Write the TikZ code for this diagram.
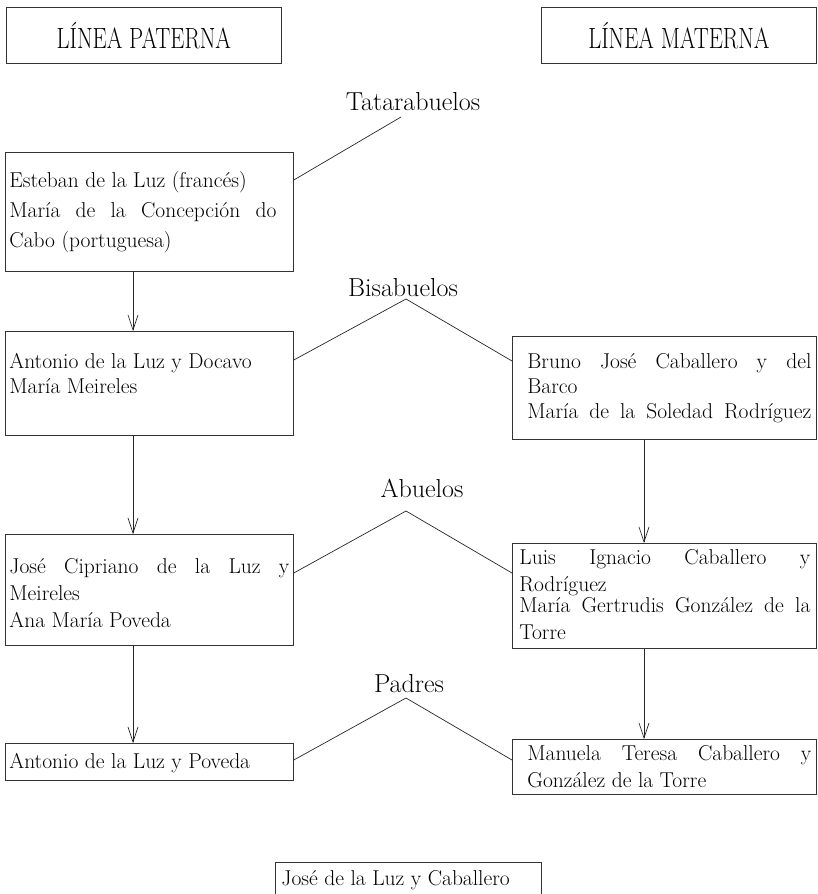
\documentclass[tikz,border=0pt]{standalone}
\usepackage{graphicx}
\usetikzlibrary{arrows.meta}
% #1 left pad, #2 text width, #3 right pad, #4 box height, #5 top gap, #6 baselineskip, #7 text
\newcommand\bx[7]{\hspace*{#1}\parbox[t][#4][t]{#2}{\fontsize{21.5}{#6}\selectfont\raggedright\vspace*{#5}\strut #7}\hspace*{#3}}
\newcommand\fl[1]{\makebox[\linewidth][s]{#1}}
\begin{document}
\begin{tikzpicture}[x=1pt,y=-1pt,
  box/.style={draw=black!80, line width=0.8pt, anchor=north west, inner sep=0pt},
  hbox/.style={draw=black!80, line width=0.8pt, anchor=north west, inner sep=0pt, font=\fontsize{22.5}{26}\selectfont},
  conn/.style={draw=black!85, line width=0.7pt},
  arr/.style={conn, -{Straight Barb[length=15pt,width=10pt,line width=0.7pt]}},
  lbl/.style={inner sep=0pt, anchor=base, font=\fontsize{26}{30}\selectfont},
]
\useasboundingbox (0,0) rectangle (817,894);
% headers
\node[hbox, minimum width=275pt, minimum height=56pt] (pat) at (6,7) {\scalebox{1}[1.3]{LÍNEA PATERNA}};
\node[hbox, minimum width=275pt, minimum height=56pt] (mat) at (541,7) {\scalebox{1}[1.3]{LÍNEA MATERNA}};
% generation labels
\node[lbl] (tata) at (413,110) {Tatarabuelos};
\node[lbl] (bisa) at (403,296) {Bisabuelos};
\node[lbl] (abue) at (422,497) {Abuelos};
\node[lbl] (padr) at (409,692) {Padres};
% boxes
\node[box] (est) at (5,152) {\bx{4pt}{267pt}{17pt}{119pt}{14pt}{30}{Esteban de la Luz (francés)\\ \fl{María de la Concepción do}\\ Cabo (portuguesa)}};
\node[box] (ant) at (5,331) {\bx{4pt}{276pt}{8pt}{104pt}{19.5pt}{25}{Antonio de la Luz y Docavo\\ María Meireles}};
\node[box] (bru) at (512,336) {\bx{15pt}{284pt}{5pt}{103pt}{14.5pt}{25}{\fl{Bruno José Caballero y del}\\ Barco\\ \fl{María de la Soledad Rodríguez}}};
\node[box] (jos) at (5,534) {\bx{4pt}{280pt}{4pt}{111pt}{20pt}{27}{\fl{José Cipriano de la Luz y}\\ Meireles\\ Ana María Poveda}};
\node[box] (lui) at (512,543) {\bx{7pt}{291pt}{6pt}{105pt}{2.4pt}{27}{\fl{Luis Ignacio Caballero y}\\ Rodríguez\\[-6pt] \fl{María Gertrudis González de la}\\ Torre}};
\node[box] (anp) at (5,743) {\bx{4pt}{276pt}{8pt}{37pt}{6pt}{27}{Antonio de la Luz y Poveda}};
\node[box] (man) at (512,739) {\bx{15pt}{284pt}{5pt}{55pt}{2pt}{27}{\fl{Manuela Teresa Caballero y}\\ González de la Torre}};
\node[box] (jlc) at (275,862) {\bx{6pt}{254pt}{6pt}{40pt}{4pt}{27}{José de la Luz y Caballero}};
% arrows
\draw[arr] ([xshift=128pt]est.south west) -- ([xshift=128pt]ant.north west);
\draw[arr] ([xshift=128pt]ant.south west) -- ([xshift=128pt]jos.north west);
\draw[arr] ([xshift=128pt]jos.south west) -- ([xshift=128pt]anp.north west);
\draw[arr] ([xshift=132pt]bru.south west) -- ([xshift=132pt]lui.north west);
\draw[arr] ([xshift=132pt]lui.south west) -- ([xshift=132pt]man.north west);
% generation connectors
\coordinate (tA) at (401,117);
\draw[conn] (tA) -- ([yshift=-28pt]est.north east);
\coordinate (bA) at (406,299);
\draw[conn] ([yshift=-29pt]ant.north east) -- (bA) -- ([yshift=-25pt]bru.north west);
\coordinate (aA) at (406,511);
\draw[conn] ([yshift=-39pt]jos.north east) -- (aA) -- ([yshift=-30pt]lui.north west);
\coordinate (pA) at (406,698);
\draw[conn] ([yshift=-17pt]anp.north east) -- (pA) -- ([yshift=-21pt]man.north west);
\end{tikzpicture}
\end{document}
